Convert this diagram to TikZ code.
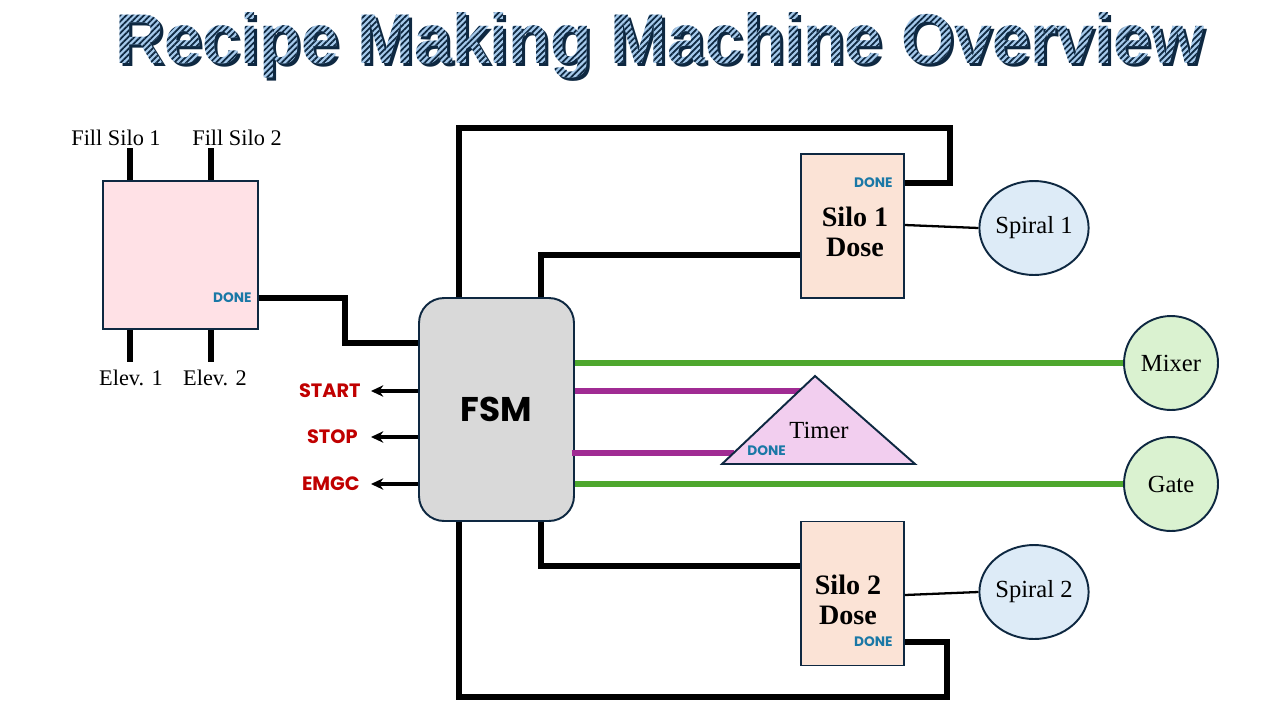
\documentclass[tikz,border=0pt]{standalone}
\usepackage{fontspec}
\setmainfont{Liberation Serif}
\newfontfamily\tagfont{Poppins}
\newfontfamily\headfont{Liberation Sans}
\usetikzlibrary{calc,arrows.meta,shapes.geometric,fadings,patterns.meta}

\definecolor{navy}{HTML}{0E2841}
\definecolor{loadpink}{HTML}{FFE1E6}
\definecolor{silopeach}{HTML}{FBE3D6}
\definecolor{fsmgray}{HTML}{D9D9D9}
\definecolor{spiralblue}{HTML}{DDEBF7}
\definecolor{mixgreen}{HTML}{DAF2D0}
\definecolor{timerpink}{HTML}{F2CEEF}
\definecolor{linegreen}{HTML}{4EA72E}
\definecolor{linepurple}{HTML}{A02B93}
\definecolor{doneblue}{HTML}{1A78A6}
\definecolor{sigred}{HTML}{C00000}
\definecolor{titleblue}{HTML}{A6CAEC}

\newcommand{\titletext}{\resizebox{21.76cm}{1.02cm}{\headfont\bfseries Recipe Making Machine Overview}}

\begin{document}%
\pgfdeclarefading{titlefade}{\color{white}\titletext}%
\begin{tikzpicture}[x=0.02cm,y=-0.02cm,>={Stealth[length=7pt,width=6.5pt]},
    wire/.style={line width=3.1pt},
    ctrl/.style={line width=3pt,draw=linegreen},
    tmr/.style={line width=3pt,draw=linepurple},
    blk/.style={draw=navy,line width=1.1pt},
    done/.style={font=\tagfont\bfseries\fontsize{7.8}{8}\selectfont,text=doneblue,inner sep=0pt},
    sig/.style={font=\tagfont\bfseries\fontsize{11}{12}\selectfont,text=sigred,inner sep=0pt},
    lbl/.style={font=\fontsize{12.7}{14}\selectfont,inner sep=0pt},
    dev/.style={blk,font=\fontsize{14}{16}\selectfont,inner sep=0pt}]
    \useasboundingbox (0,0) rectangle (1280,720);

    \node (titleshadow) at (663,48) [inner sep=0pt,text=navy]{\titletext};
    \fill[titleblue,path fading=titlefade,fit fading=false,fading transform={shift={(660,45)}}] (90,0) rectangle (1240,95);
    \fill[pattern={Lines[angle=45,distance=2.4pt,line width=1pt]},pattern color=navy,path fading=titlefade,fit fading=false,fading transform={shift={(660,45)}}] (90,0) rectangle (1240,95);

    \node (hopper) at (180.5,255) [blk,fill=loadpink,minimum width=3.1cm,minimum height=2.96cm]{};
    \node (fill1) at (116,138) [lbl]{Fill Silo 1};
    \node (fill2) at (237,138) [lbl]{Fill Silo 2};
    \node (elev1) at (131,378) [lbl]{Elev. 1};
    \node (elev2) at (215,378) [lbl]{Elev. 2};
    \node (ldone) at (252,298) [done,anchor=east]{DONE};
    \draw[wire] (hopper.north -| 130,0) -- (130,148);
    \draw[wire] (hopper.north -| 211,0) -- (211,148);
    \draw[wire] (hopper.south -| 130,0) -- (130,362);
    \draw[wire] (hopper.south -| 211,0) -- (211,362);

    \node (fsm) at (496.5,409.5) [blk,fill=fsmgray,rounded corners=0.5cm,minimum width=3.1cm,minimum height=4.46cm,font=\tagfont\bfseries\fontsize{19.5}{20}\selectfont]{FSM};
    \draw[wire] (hopper.east |- ldone) -- (345,298) |- (fsm.west |- 0,343);

    \node (start) at (361,391) [sig,anchor=east]{START};
    \node (stop) at (358,437) [sig,anchor=east]{STOP};
    \node (emgc) at (360,484) [sig,anchor=east]{EMGC};
    \draw[->,line width=2.3pt] (fsm.west |- start) -- ($(start.east)+(10,0)$);
    \draw[->,line width=2.3pt] (fsm.west |- stop) -- ($(stop.east)+(13,0)$);
    \draw[->,line width=2.3pt] (fsm.west |- emgc) -- ($(emgc.east)+(11,0)$);

    \node (silo1) at (852.5,226) [blk,fill=silopeach,minimum width=2.06cm,minimum height=2.88cm]{};
    \node (s1txt) at (855,232) [align=center,font=\bfseries\fontsize{16}{17.5}\selectfont,inner sep=0pt]{Silo 1\\Dose};
    \node (s1done) at (893,183) [done,anchor=east]{DONE};
    \node (spiral1) at (1034,228) [dev,ellipse,fill=spiralblue,minimum width=2.16cm,minimum height=1.88cm]{Spiral 1};
    \draw[line width=1.3pt] (silo1.east |- 0,225) -- (spiral1.west);
    \draw[wire] (fsm.north -| 459,0) |- (950,128) |- (silo1.east |- s1done);
    \draw[wire] (fsm.north -| 541,0) |- (silo1.west |- 0,255);

    \node (silo2) at (852.5,593.5) [blk,fill=silopeach,minimum width=2.06cm,minimum height=2.88cm]{};
    \node (s2txt) at (848,600) [align=center,font=\bfseries\fontsize{16}{17.5}\selectfont,inner sep=0pt]{Silo 2\\Dose};
    \node (s2done) at (893,642) [done,anchor=east]{DONE};
    \node (spiral2) at (1034,592) [dev,ellipse,fill=spiralblue,minimum width=2.16cm,minimum height=1.88cm]{Spiral 2};
    \draw[line width=1.3pt] (silo2.east |- 0,595) -- (spiral2.west);
    \draw[wire] (fsm.south -| 541,0) |- (silo2.west |- 0,566);
    \draw[wire] (fsm.south -| 459,0) |- (947,697) |- (silo2.east |- s2done);

    \node (mixer) at (1171,363) [dev,circle,fill=mixgreen,minimum size=1.88cm]{Mixer};
    \node (gate) at (1171,484) [dev,circle,fill=mixgreen,minimum size=1.88cm]{Gate};
    \draw[ctrl] (fsm.east |- mixer) -- (mixer.west);
    \draw[ctrl] (fsm.east |- gate) -- (gate.west);

    \coordinate (tl) at (722,464);
    \coordinate (tt) at (815,376);
    \coordinate (tr) at (915,464);
    \coordinate (tin) at ($(tl)!0.83!(tt)$);
    \coordinate (tout) at ($(tl)!0.125!(tt)$);
    \draw[tmr] (fsm.east |- tin) -- ($(tin)+(4,0)$);
    \draw[tmr] ($(fsm.east |- tout)+(-3,0)$) -- (tout);
    \draw[blk,fill=timerpink] (tl) -- (tt) -- (tr) -- cycle;
    \node (timer) at (819,430) [dev,draw=none]{Timer};
    \node (tdone) at (747,451) [done,anchor=west]{DONE};
\end{tikzpicture}
\end{document}
